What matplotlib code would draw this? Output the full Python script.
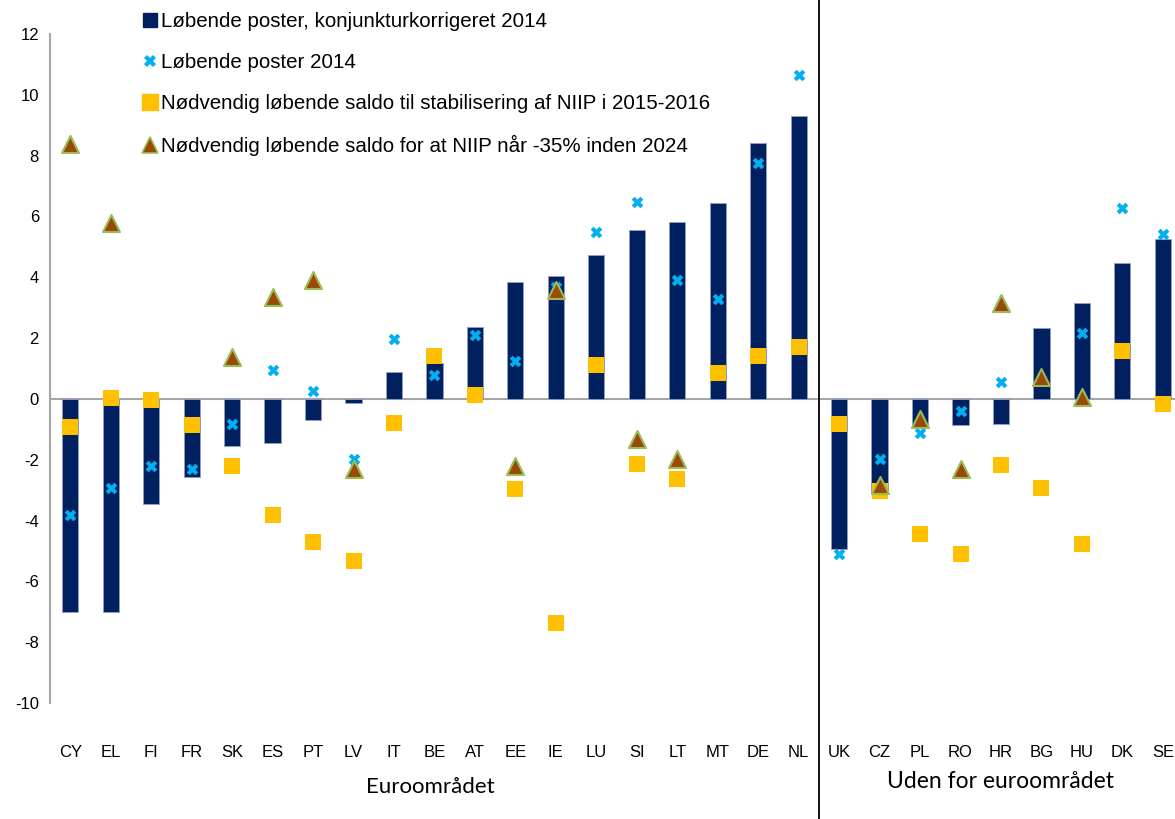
import matplotlib.pyplot as plt
from matplotlib.lines import Line2D
import numpy as np

countries = ['CY', 'EL', 'FI', 'FR', 'SK', 'ES', 'PT', 'LV', 'IT', 'BE', 'AT', 'EE', 'IE', 'LU',
             'SI', 'LT', 'MT', 'DE', 'NL', 'UK', 'CZ', 'PL', 'RO', 'HR', 'BG', 'HU', 'DK', 'SE']

# cyclically adjusted current account 2014 (bars)
ca_adjusted = [-7.0, -7.0, -3.44, -2.58, -1.56, -1.45, -0.69, -0.13, 0.87, 1.17, 2.35, 3.83, 4.04, 4.73,
               5.57, 5.83, 6.43, 8.41, 9.30, -4.92, -3.08, -0.87, -0.87, -0.84, 2.34, 3.16, 4.47, 5.25]
# current account 2014 (x markers), None = missing
ca_2014 = [-3.81, -2.92, -2.19, -2.31, -0.81, 0.96, 0.27, -1.98, 1.96, 0.80, 2.11, 1.25, 3.69, 5.49,
           6.49, 3.91, 3.30, 7.76, 10.66, -5.11, -1.98, -1.13, -0.39, 0.57, None, 2.16, 6.27, 5.43]
# required balance to stabilise NIIP 2015-2016 (squares)
stabilise = [-0.94, 0.04, -0.03, -0.87, -2.19, -3.81, -4.69, -5.32, -0.78, 1.41, 0.12, -2.96, -7.37, 1.11,
             -2.13, -2.65, 0.85, 1.41, 1.71, -0.83, -3.03, -4.45, -5.11, -2.18, -2.94, -4.78, 1.57, -0.18]
# required balance for NIIP -35% by 2024 (triangles)
niip_35 = [8.38, 5.78, None, None, 1.38, 3.34, 3.91, -2.31, None, None, None, -2.22, 3.59, None,
           -1.33, -1.96, None, None, None, None, -2.84, -0.65, -2.29, 3.14, 0.73, 0.07, None, None]

labels = ['Løbende poster, konjunkturkorrigeret 2014',
          'Løbende poster 2014',
          'Nødvendig løbende saldo til stabilisering af NIIP i 2015-2016',
          'Nødvendig løbende saldo for at NIIP når -35% inden 2024']

plt.rcParams['font.family'] = ['Liberation Sans', 'DejaVu Sans']
plt.rcParams['axes.unicode_minus'] = False

fig = plt.figure(figsize=(11.75, 8.19), dpi=100)
ax = fig.add_axes([50 / 1175, 1 - 703 / 819, 1 - 50 / 1175, 669 / 819])

x = np.arange(len(countries))


def pts(vals):
    xs = [i for i, v in enumerate(vals) if v is not None]
    return xs, [vals[i] for i in xs]


ax.bar(x, ca_adjusted, width=0.4, color='#002060', edgecolor='#8EA2C4', linewidth=0.6, zorder=2)
ax.axhline(0, color='#A6A6A6', linewidth=1.5, zorder=1)

xs, ys = pts(ca_2014)
ax.scatter(xs, ys, marker='X', s=70, color='#00B0F0', linewidths=0, zorder=3)
xs, ys = pts(stabilise)
ax.scatter(xs, ys, marker='s', s=130, color='#FFC000', linewidths=0, zorder=4)
xs, ys = pts(niip_35)
ax.scatter(xs, ys, marker='^', s=150, color='#9A4A06', edgecolors='#9BBB59', linewidths=1.5, zorder=5)

ax.set_xlim(-0.5, 27.3)
ax.set_ylim(-10, 12)
ax.set_yticks(range(-10, 13, 2))
ax.set_xticks(x)
ax.set_xticklabels(countries)
ax.tick_params(axis='both', length=0, labelsize=12)
ax.tick_params(axis='x', pad=30)
ax.tick_params(axis='y', pad=8)
for s in ['top', 'right', 'bottom']:
    ax.spines[s].set_visible(False)
ax.spines['left'].set_color('#A6A6A6')
ax.spines['left'].set_linewidth(1.5)

# separator between groups
ax.axvline(18.5, ymin=-0.175, ymax=1.06, color='black', linewidth=1.3, clip_on=False)

ax.text(8.9, -0.125, 'Euroområdet', transform=ax.get_xaxis_transform(),
        ha='center', va='center', fontsize=16, family=['Lato', 'DejaVu Sans'])
ax.text(23, -0.117, 'Uden for euroområdet', transform=ax.get_xaxis_transform(),
        ha='center', va='center', fontsize=16.5, family=['Lato', 'DejaVu Sans'])

handles = [
    Line2D([], [], linestyle='none', marker='s', markersize=10, color='#002060'),
    Line2D([], [], linestyle='none', marker='X', markersize=9, color='#00B0F0', markeredgewidth=0),
    Line2D([], [], linestyle='none', marker='s', markersize=11, color='#FFC000'),
    Line2D([], [], linestyle='none', marker='^', markersize=11, markerfacecolor='#9A4A06',
           markeredgecolor='#9BBB59', markeredgewidth=1.2),
]
fig.legend(handles, labels, loc='upper left', bbox_to_anchor=(136 / 1175, 1 - 4 / 819), frameon=False,
           fontsize=14.8, handlelength=0.6, handletextpad=0.2, labelspacing=1.07, borderaxespad=0)

fig.savefig('out.png', dpi=100)
